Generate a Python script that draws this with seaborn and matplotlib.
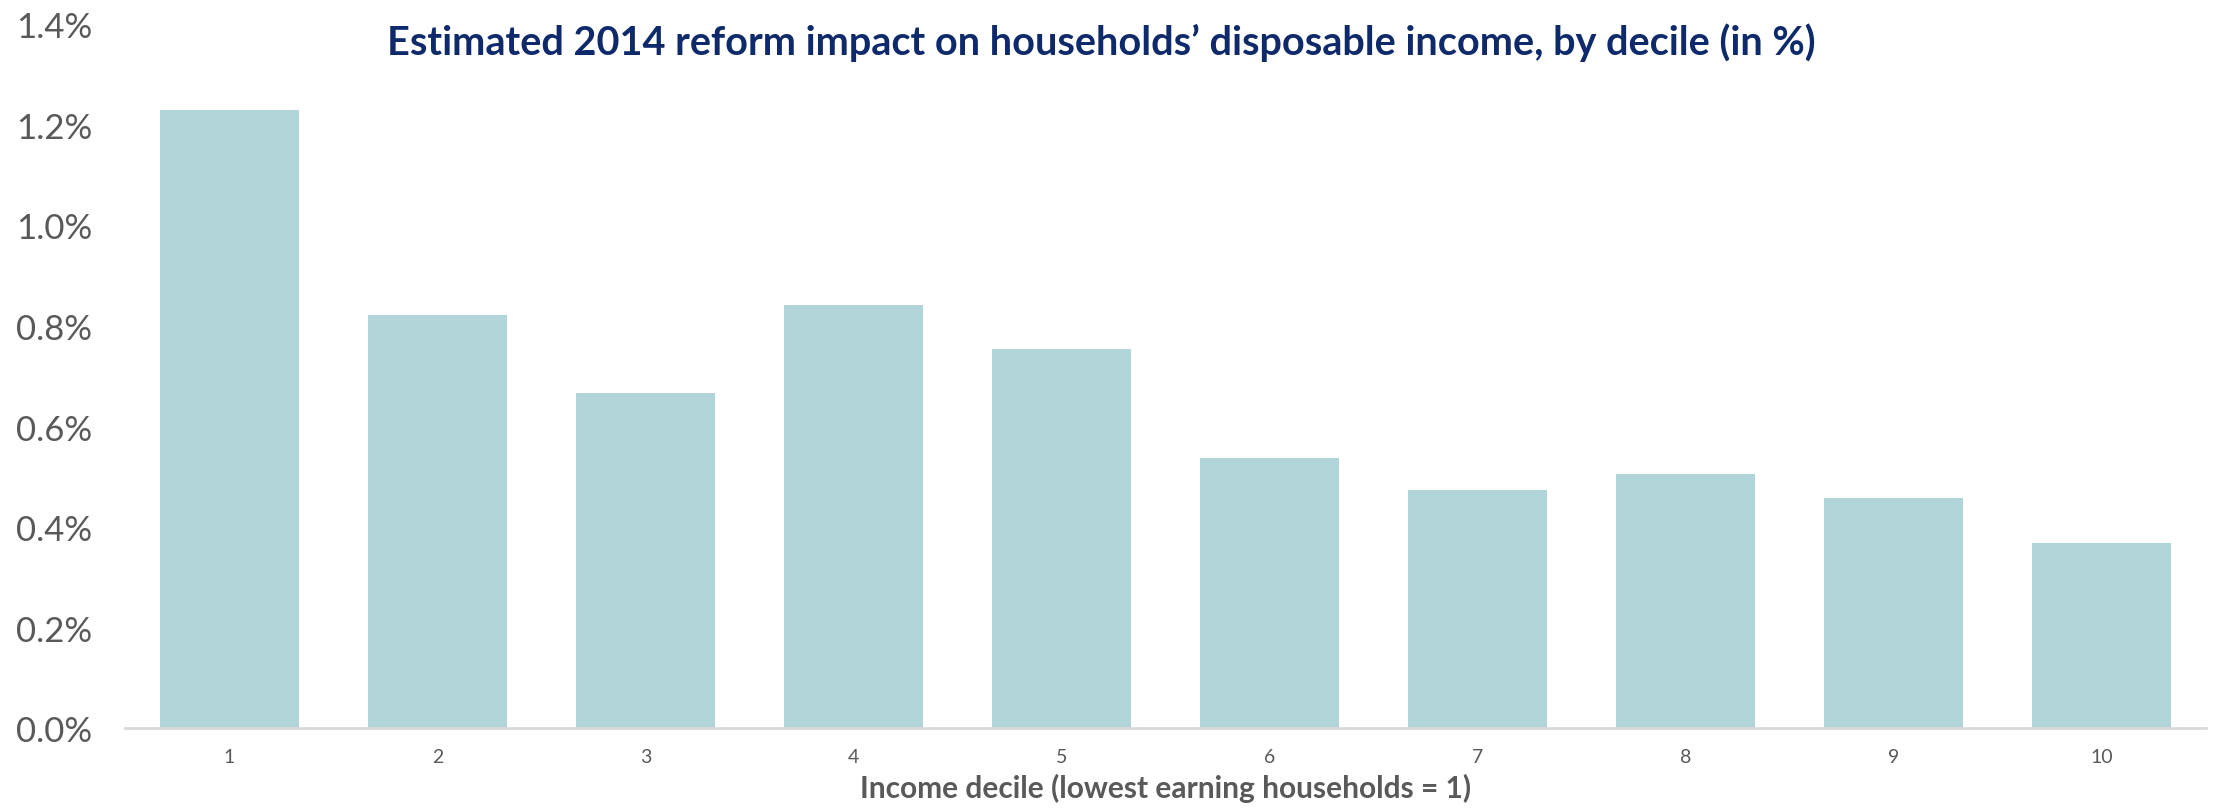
import matplotlib
matplotlib.use("Agg")
import matplotlib.pyplot as plt
import matplotlib.ticker as mticker
import seaborn as sns
import pandas as pd

# Data (percent impact on disposable income by decile)
deciles = ["1", "2", "3", "4", "5", "6", "7", "8", "9", "10"]
impact_pct = [1.23, 0.821, 0.667, 0.841, 0.755, 0.537, 0.474, 0.506, 0.457, 0.368]
y_ticks = [0.0, 0.2, 0.4, 0.6, 0.8, 1.0, 1.2, 1.4]

title = "Estimated 2014 reform impact on households\u2019 disposable income, by decile (in %)"
x_label = "Income decile (lowest earning households = 1)"

sns.set_theme(style="white")
plt.rcParams["font.family"] = ["Lato", "DejaVu Sans"]

df = pd.DataFrame({"decile": deciles, "impact": impact_pct})

fig = plt.figure(figsize=(22.16, 8.12), dpi=100)
ax = fig.add_axes([0.0566, 0.1018, 0.9387, 0.8673])

sns.barplot(data=df, x="decile", y="impact", order=deciles, color="#B2D5D9",
            saturation=1, width=0.668, ax=ax, edgecolor="none", linewidth=0)

ax.set_ylim(0, 1.4)
ax.set_yticks(y_ticks)
ax.yaxis.set_major_formatter(mticker.FuncFormatter(lambda v, p: f"{v:.1f}%"))
ax.set_xlim(-0.5, len(deciles) - 0.5)

for s in ["top", "right", "left"]:
    ax.spines[s].set_visible(False)
ax.spines["bottom"].set_color("#D9D9D9")
ax.spines["bottom"].set_linewidth(2)
ax.grid(False)

ax.tick_params(axis="y", length=0, pad=24, labelsize=25, labelcolor="#595959")
ax.tick_params(axis="x", length=0, pad=14, labelsize=14, labelcolor="#595959")

ax.set_ylabel("")
ax.set_xlabel(x_label, fontsize=21.5, fontweight="bold", color="#595959", labelpad=6)

fig.text(0.497, 0.948, title, ha="center", va="center", fontsize=28.5,
         fontweight="bold", color="#0E2A6B")

fig.savefig("out.png", dpi=100, facecolor="white")
